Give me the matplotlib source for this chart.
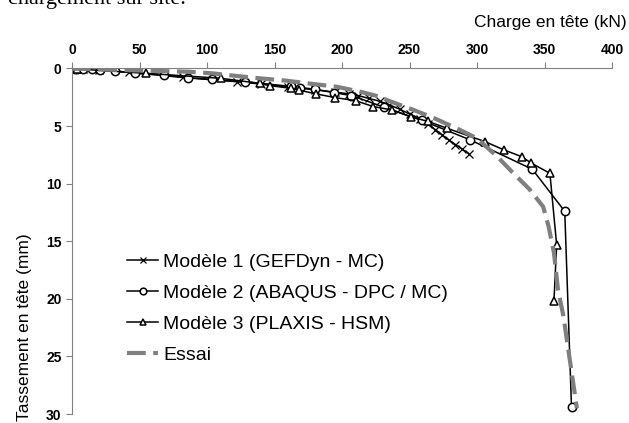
import matplotlib
matplotlib.use("Agg")
import matplotlib.pyplot as plt

plt.rcParams['font.family'] = ['Liberation Sans', 'DejaVu Sans']

# Modèle 1 (GEFDyn - MC)
m1_charge = [0, 3, 8, 20, 42, 82, 122, 140, 160, 180, 195, 205, 212, 220, 228, 235,
             243, 250, 258, 264, 269, 274, 279, 284, 289, 294]
m1_tass = [0, 0.02, 0.05, 0.15, 0.33, 0.78, 1.15, 1.35, 1.6, 1.85, 2.05, 2.2, 2.35, 2.6,
           2.85, 3.15, 3.55, 3.95, 4.35, 4.85, 5.3, 5.75, 6.2, 6.6, 7.0, 7.4]

# Modèle 2 (ABAQUS - DPC / MC)
m2_charge = [0, 2, 4, 8, 15, 21, 32, 47, 68, 86, 104, 128, 162, 169, 180, 194, 207,
             231, 259, 295, 341, 365, 370]
m2_tass = [0, 0.01, 0.02, 0.05, 0.08, 0.1, 0.2, 0.42, 0.56, 0.8, 0.95, 1.15, 1.55, 1.65,
           1.8, 2.1, 2.35, 3.35, 4.5, 6.2, 8.75, 12.4, 29.4]

# Modèle 3 (PLAXIS - HSM)
m3_charge = [0, 2, 4, 55, 110, 139, 147, 162, 168, 181, 195, 210, 223, 237, 251, 264,
             278, 306, 320, 333, 340, 354, 359, 357]
m3_tass = [0, 0.02, 0.04, 0.42, 0.85, 1.29, 1.49, 1.72, 1.87, 2.21, 2.53, 2.79, 3.3, 3.6,
           4.2, 4.6, 5.2, 6.35, 7.07, 7.65, 8.2, 9.1, 15.3, 20.2]

# Essai
essai_charge = [0, 20, 55, 86, 104, 122, 139, 159, 179, 196, 213, 228, 233, 253, 268,
                285, 300, 315, 327, 339, 349, 353, 357, 360, 364, 368, 374]
essai_tass = [0, 0.08, 0.19, 0.28, 0.42, 0.65, 0.85, 1.06, 1.35, 1.58, 2.0, 2.45, 2.73,
              3.6, 4.3, 5.2, 6.06, 7.65, 9.1, 10.5, 12.0, 13.7, 16.0, 19.2, 21.5, 24.7, 29.5]

x_ticks = [0, 50, 100, 150, 200, 250, 300, 350, 400]
y_ticks = [0, 5, 10, 15, 20, 25, 30]

fig = plt.figure(figsize=(6.29, 4.23), dpi=100)
ax = fig.add_axes([72 / 629, 1 - 414 / 423, 540 / 629, 345.5 / 423])

ax.plot(m1_charge, m1_tass, color='black', lw=1.1, marker='x', ms=5.5, mew=0.9,
        label='Modèle 1 (GEFDyn - MC)')
ax.plot(m2_charge, m2_tass, color='black', lw=1.1, marker='o', ms=6, mfc='white', mew=1.1,
        label='Modèle 2 (ABAQUS - DPC / MC)')
ax.plot(m3_charge, m3_tass, color='black', lw=1.1, marker='^', ms=6, mfc='white', mew=1.1,
        label='Modèle 3 (PLAXIS - HSM)')
ax.plot(essai_charge, essai_tass, color='#7f7f7f', lw=3, dashes=(4.5, 1.8),
        label='Essai')

ax.set_xlim(0, 400)
ax.set_ylim(30, 0)
ax.set_xticks(x_ticks)
ax.set_yticks(y_ticks)
ax.xaxis.tick_top()
ax.tick_params(axis='both', colors='#808080', length=4, width=0.8,
               labelcolor='black', labelsize=10)
for lab in ax.get_xticklabels() + ax.get_yticklabels():
    lab.set_fontweight('bold')
ax.tick_params(axis='x', pad=4)

for side in ['bottom', 'right']:
    ax.spines[side].set_visible(False)
for side in ['top', 'left']:
    ax.spines[side].set_color('#808080')
    ax.spines[side].set_linewidth(0.8)

fig.text(627 / 629, 1 - 23 / 423, 'Charge en tête (kN)', ha='right', va='center', fontsize=12.5)
fig.text(25 / 629, 1 - 327 / 423, 'Tassement en tête (mm)', rotation=90,
         ha='center', va='center', fontsize=12.5)
fig.text(8 / 629, 1 - 4 / 423, 'chargement sur site.', ha='left', va='baseline',
         fontsize=16, family=['Liberation Serif', 'DejaVu Serif'])

ax.legend(loc='upper left', bbox_to_anchor=(127 / 629, 1 - 253 / 423),
          bbox_transform=fig.transFigure, frameon=False, fontsize=14,
          handlelength=1.6, handletextpad=0.26, labelspacing=0.7,
          borderpad=0, borderaxespad=0, markerscale=0.8)

fig.savefig('out.png', dpi=100)
